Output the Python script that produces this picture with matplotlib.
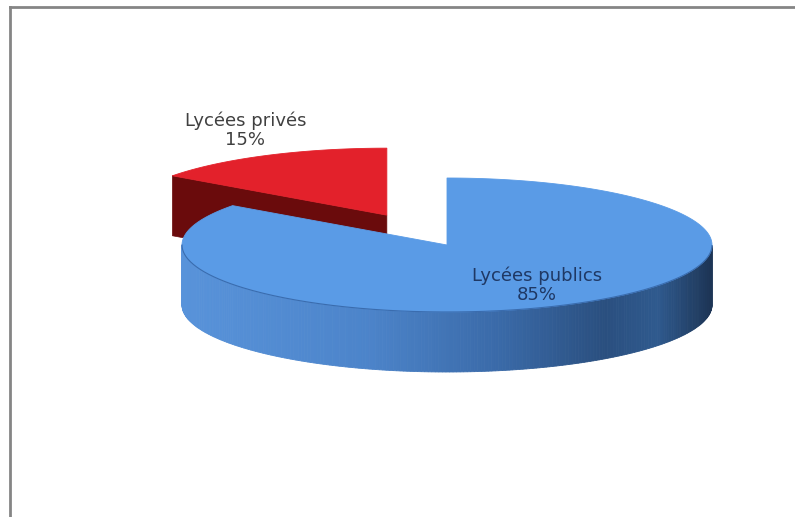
import numpy as np
import matplotlib
matplotlib.use("Agg")
import matplotlib.pyplot as plt
from matplotlib.patches import Polygon
from matplotlib.colors import LinearSegmentedColormap
from matplotlib.lines import Line2D

# ---- data ----
labels = ["Lycées privés", "Lycées publics"]
values = [15, 85]
explode = [0.5, 0.0]

# ---- style ----
top_colors = ["#e3212b", "#5a9be6"]
side_colors = ["#7a0d0f", "#3f78c0"]
radial_colors = ["#6a0b0c", "#2c578d"]
label_colors = ["#404040", "#1f3864"]
label_pos = [(1.176, 1.42), (0.75, 0.67)]   # (rx-factor, ry-factor) along mid angle

W, H = 795, 517
fig = plt.figure(figsize=(W / 100, H / 100), dpi=100)
ax = fig.add_axes([0, 0, 1, 1])
ax.set_xlim(0, W)
ax.set_ylim(H, 0)
ax.axis("off")

cx, cy = 447, 245
rx, ry = 265, 67
depth = 60

side_cmap = LinearSegmentedColormap.from_list(
    "side", [(0.0, "#5893da"), (0.35, "#4c84ca"), (0.6, "#3a6aa8"),
             (0.8, "#2a4f7f"), (0.9, "#2f5a8e"), (1.0, "#1d3556")])

total = float(sum(values))
start = 90.0
slices = []
for v in values:
    span = 360.0 * v / total
    slices.append((start, start + span))
    start += span


def pt(c, a, r=1.0):
    return (c[0] + r * rx * np.cos(np.radians(a)),
            c[1] - r * ry * np.sin(np.radians(a)))


for i, (a0, a1) in enumerate(slices):
    mid = (a0 + a1) / 2
    c = (cx + explode[i] * rx * np.cos(np.radians(mid)),
         cy - explode[i] * ry * np.sin(np.radians(mid)))
    z = 1 + i * 10
    # radial faces (visible ones)
    for a, sgn in ((a0, -1), (a1, 1)):
        normal = a + sgn * 90
        if np.sin(np.radians(normal)) < -1e-6:
            p = pt(c, a)
            quad = [c, p, (p[0], p[1] + depth), (c[0], c[1] + depth)]
            ax.add_patch(Polygon(quad, closed=True, facecolor=radial_colors[i],
                                 edgecolor=radial_colors[i], lw=0.5, zorder=z))
    # outer side, front half only
    angs = np.linspace(a0, a1, 400)
    front = [a for a in angs if np.sin(np.radians(a)) < 0]
    for j in range(len(front) - 1):
        p0 = pt(c, front[j]); p1 = pt(c, front[j + 1])
        quad = [p0, p1, (p1[0], p1[1] + depth), (p0[0], p0[1] + depth)]
        if i == 1:
            t = ((p0[0] + p1[0]) / 2 - (cx - rx)) / (2 * rx)
            col = side_cmap(np.clip(t, 0, 1))
        else:
            col = side_colors[i]
        ax.add_patch(Polygon(quad, closed=True, facecolor=col, edgecolor=col,
                             lw=0.6, zorder=z + 1))
    # top face
    arc = [pt(c, a) for a in angs]
    top = [c] + arc
    ax.add_patch(Polygon(top, closed=True, facecolor=top_colors[i],
                         edgecolor=top_colors[i], lw=0.6, zorder=z + 2))
    # rim line between top and side
    if len(front) > 1:
        fa = np.array([pt(c, a) for a in front])
        ax.plot(fa[:, 0], fa[:, 1], color="#3a6cae" if i == 1 else "#a01418",
                lw=0.8, zorder=z + 3)
    # label
    fx, fy = label_pos[i]
    lx = c[0] + fx * rx * np.cos(np.radians(mid))
    ly = c[1] - fy * ry * np.sin(np.radians(mid))
    ax.text(lx, ly, f"{labels[i]}\n{values[i]}%", ha="center", va="center",
            fontsize=13, color=label_colors[i], family="DejaVu Sans",
            linespacing=1.1, zorder=50)

# frame border (top and left)
fig.add_artist(Line2D([9.5 / W, 1.0], [1 - 6.5 / H, 1 - 6.5 / H],
                      transform=fig.transFigure, color="#858585", lw=2))
fig.add_artist(Line2D([9.5 / W, 9.5 / W], [0, 1 - 6.5 / H],
                      transform=fig.transFigure, color="#858585", lw=2))

fig.savefig("out.png", dpi=100, facecolor="white")
